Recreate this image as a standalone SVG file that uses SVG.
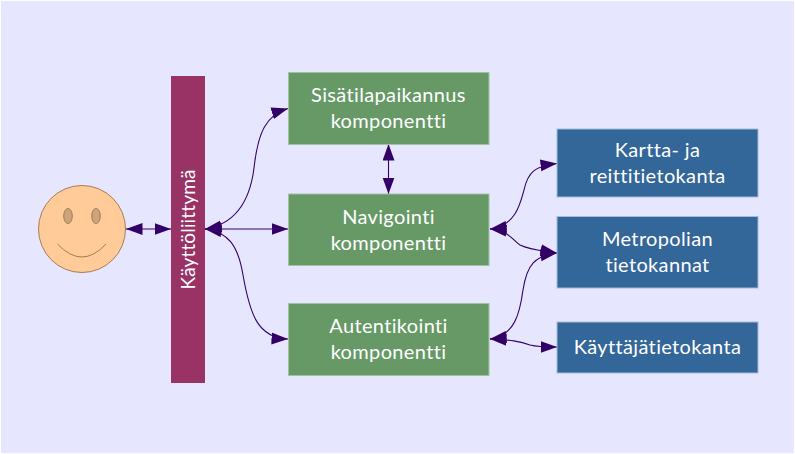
<svg xmlns="http://www.w3.org/2000/svg" width="795" height="454" viewBox="0 0 795 454">
<style>
text{font-family:"Lato","Liberation Sans",sans-serif;font-size:20px;letter-spacing:.35px;fill:#fff;text-anchor:middle}
.r{font-size:19px;letter-spacing:.15px}
.g{fill:#669966;stroke:#a3c2a3;stroke-width:1}
.b{fill:#336699;stroke:#a3bcd6;stroke-width:1}
.c{fill:none;stroke:#330066;stroke-width:1.1;marker-start:url(#a);marker-end:url(#a)}
</style>
<defs>
<marker id="a" markerUnits="userSpaceOnUse" markerWidth="18" markerHeight="14" refX="16.5" refY="6" orient="auto-start-reverse"><path d="M0,0L16.5,6L0,12z" fill="#330066"/></marker>
</defs>
<rect width="795" height="454" fill="#fff"/>
<rect x="1" y="1" width="793" height="452" fill="#e6e6ff"/>
<g id="connectors">
<path class="c" d="M126,229H171"/>
<path class="c" d="M205,229C236,224 250,200 254,168C258,132 266,115 288,108.500"/>
<path class="c" d="M205,229H288"/>
<path class="c" d="M205,229C228,232 238,245 243,275C250,315 258,338 288,339"/>
<path class="c" d="M388.500,144V194"/>
<path class="c" d="M490,229C515,226 520,205 524,190C528,172 535,166 557,163.500"/>
<path class="c" d="M490,229C510,231 512,240 520,245C530,250 545,251 557,253"/>
<path class="c" d="M490,339C515,336 520,312 523,290C527,264 535,256 557,253"/>
<path class="c" d="M490,339C510,340 520,341 530,345C538,347 545,347 557,347"/>
</g>
<g id="user">
<circle cx="82" cy="229" r="43.500" fill="#ffcc99" stroke="#a67c52" stroke-width="1"/>
<ellipse cx="68" cy="216" rx="4.300" ry="7.500" fill="#cca37a" stroke="#a67c52" stroke-width="1"/>
<ellipse cx="96" cy="216" rx="4.300" ry="7.500" fill="#cca37a" stroke="#a67c52" stroke-width="1"/>
<path d="M57.500,244Q82,270 106,244" fill="none" stroke="#a67c52" stroke-width="1"/>
</g>
<g id="kayttoliittyma">
<rect x="171" y="76" width="34" height="307" fill="#993366"/>
<text class="r" transform="translate(194.500,229.500) rotate(-90)">Käyttöliittymä</text>
</g>
<g id="sisatila">
<rect class="g" x="288.500" y="72.500" width="200.500" height="72"/>
<text x="388.500" y="102">Sisätilapaikannus</text>
<text x="388.500" y="128">komponentti</text>
</g>
<g id="navigointi">
<rect class="g" x="288.500" y="194" width="200.500" height="71.500"/>
<text x="388.500" y="224">Navigointi</text>
<text x="388.500" y="250">komponentti</text>
</g>
<g id="autentikointi">
<rect class="g" x="288.500" y="303.500" width="200.500" height="72"/>
<text x="388.500" y="333">Autentikointi</text>
<text x="388.500" y="359">komponentti</text>
</g>
<g id="kartta">
<rect class="b" x="557" y="129" width="201" height="68"/>
<text x="657.500" y="157">Kartta- ja</text>
<text x="657.500" y="183">reittitietokanta</text>
</g>
<g id="metropolia">
<rect class="b" x="557" y="216.500" width="201" height="71.500"/>
<text x="657.500" y="246">Metropolian</text>
<text x="657.500" y="272">tietokannat</text>
</g>
<g id="kayttaja">
<rect class="b" x="557" y="322" width="201" height="51"/>
<text x="657.500" y="354">Käyttäjätietokanta</text>
</g>
</svg>
